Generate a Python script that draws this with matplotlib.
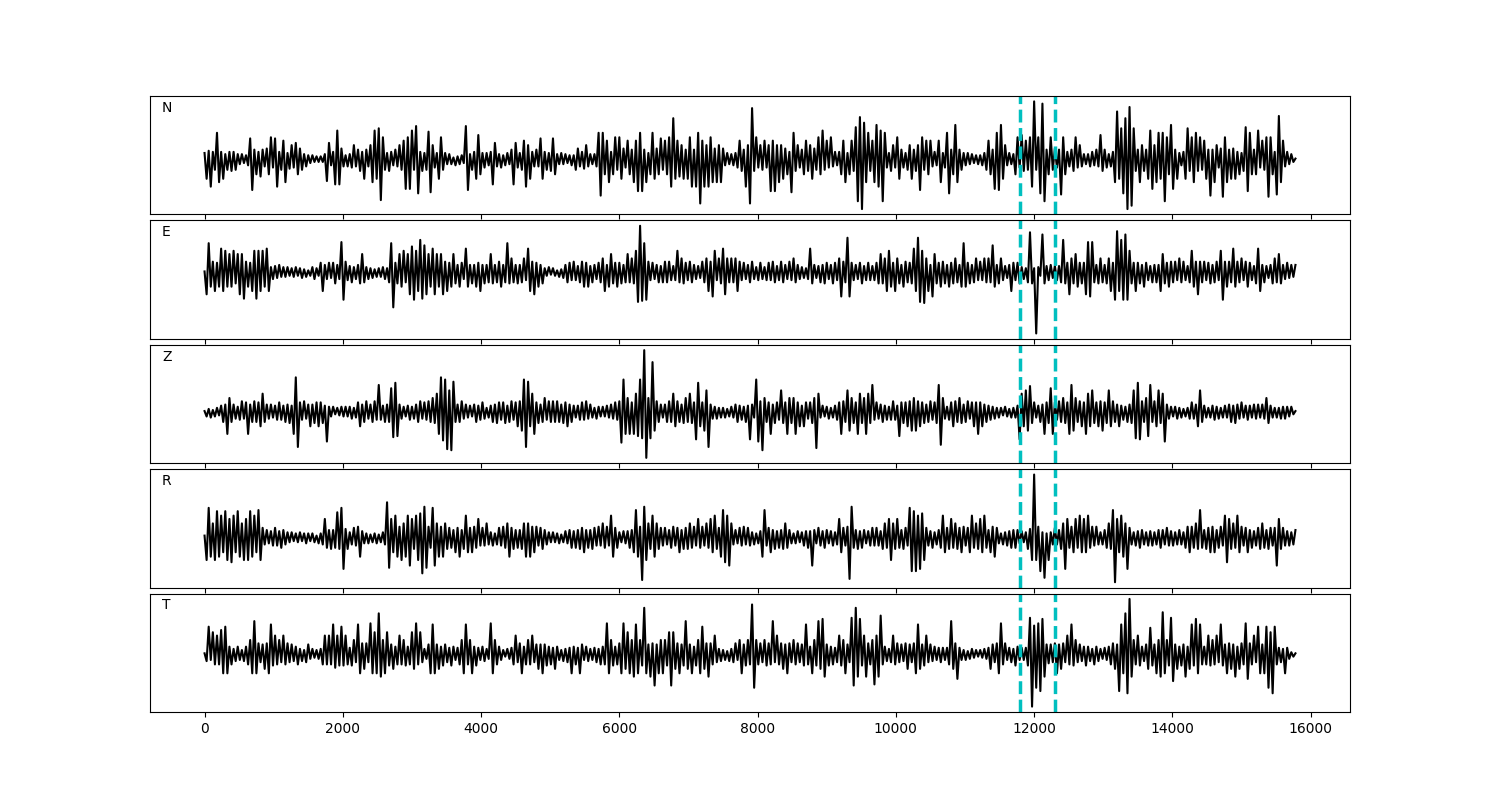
import numpy as np
import matplotlib
matplotlib.use("Agg")
import matplotlib.pyplot as plt

# peak heights, one value every 30 samples;
# successive values alternate up / down
step = 30
picks = [11800, 12300]

N_amp = [
    6, 17, 8, 24, 7, 9, 24, 20, 7, 17, 5, 9, 7, 10, 7, 9, 5,
    4, 5, 3, 4, 5, 19, 27, 9, 13, 7, 15, 9, 6, 10, 13, 20, 7,
    19, 24, 7, 9, 17, 20, 6, 8, 13, 7, 15, 13, 10, 9, 5, 6, 4,
    3, 4, 2, 3, 2, 3, 2, 5, 19, 15, 5, 7, 22, 26, 22, 10, 6,
    4, 6, 5, 7, 13, 6, 9, 10, 7, 17, 9, 6, 13, 20, 26, 17, 28,
    36, 20, 9, 6, 10, 7, 5, 9, 6, 13, 9, 17, 26, 20, 26, 26, 9,
    30, 30, 7, 10, 6, 9, 25, 29, 13, 7, 6, 17, 20, 9, 6, 4, 5,
    4, 2, 5, 3, 4, 4, 3, 30, 27, 5, 9, 7, 17, 22, 13, 6, 7,
    6, 5, 7, 22, 15, 6, 5, 7, 4, 5, 6, 4, 9, 22, 15, 7, 6,
    9, 17, 24, 13, 17, 7, 6, 9, 6, 19, 17, 7, 9, 6, 10, 19, 13,
    5, 4, 6, 4, 5, 3, 4, 5, 4, 9, 10, 6, 7, 8, 13, 6, 5,
    4, 5, 6, 24, 32, 24, 13, 17, 20, 7, 13, 20, 9, 20, 17, 10, 7,
    17, 13, 9, 20, 17, 28, 24, 28, 9, 20, 6, 13, 24, 17, 10, 13, 19,
    9, 17, 13, 20, 24, 37, 17, 17, 15, 13, 17, 9, 17, 20, 24, 9, 24,
    24, 39, 17, 24, 13, 24, 20, 20, 10, 20, 13, 20, 10, 5, 6, 4, 5,
    5, 6, 7, 17, 10, 9, 24, 13, 39, 46, 10, 20, 7, 13, 9, 17, 7,
    13, 28, 17, 28, 13, 20, 13, 17, 10, 13, 7, 29, 24, 10, 13, 7, 9,
    13, 17, 10, 13, 17, 10, 9, 20, 13, 26, 9, 17, 7, 20, 6, 7, 5,
    7, 13, 17, 20, 6, 13, 17, 10, 29, 37, 38, 44, 33, 20, 24, 10, 17,
    20, 31, 24, 26, 37, 24, 7, 6, 10, 13, 7, 20, 17, 9, 7, 6, 9,
    13, 17, 9, 10, 13, 27, 20, 9, 17, 13, 17, 6, 7, 5, 17, 20, 6,
    7, 24, 30, 9, 13, 31, 20, 9, 9, 6, 5, 6, 4, 5, 3, 4, 4,
    4, 5, 6, 9, 17, 13, 9, 26, 24, 27, 31, 17, 13, 5, 6, 4, 5,
    13, 20, 7, 22, 10, 17, 9, 20, 24, 52, 9, 20, 30, 50, 37, 9, 13,
    20, 9, 10, 7, 9, 31, 20, 13, 7, 6, 9, 10, 20, 7, 13, 6, 5,
    4, 5, 6, 7, 5, 9, 6, 22, 10, 9, 7, 5, 6, 7, 20, 43, 17,
    28, 30, 37, 44, 47, 41, 28, 10, 9, 20, 13, 10, 9, 17, 26, 26, 13,
    20, 24, 17, 24, 37, 20, 13, 31, 26, 9, 17, 6, 5, 7, 17, 28, 10,
    20, 20, 24, 10, 20, 9, 17, 17, 9, 32, 9, 20, 13, 7, 10, 33, 20,
    20, 9, 17, 10, 17, 7, 13, 6, 10, 29, 28, 24, 13, 9, 13, 26, 7,
    17, 9, 20, 33, 20, 13, 7, 31, 39, 20, 17, 6, 7, 4, 5, 2, 1,
]

E_amp = [
    1, 20, 27, 13, 10, 17, 9, 13, 22, 17, 20, 13, 17, 13, 20, 10, 17,
    20, 17, 24, 10, 13, 9, 17, 20, 24, 20, 17, 20, 13, 22, 17, 5, 6,
    6, 5, 7, 4, 5, 4, 5, 3, 4, 4, 5, 3, 4, 5, 3, 4, 2,
    3, 5, 6, 4, 3, 9, 17, 7, 6, 9, 5, 9, 10, 7, 6, 28, 25,
    10, 7, 6, 9, 5, 6, 7, 10, 17, 9, 5, 6, 4, 5, 3, 4, 4,
    4, 5, 6, 4, 9, 27, 32, 9, 10, 17, 13, 20, 9, 17, 20, 24, 25,
    20, 17, 30, 24, 25, 20, 17, 13, 22, 20, 17, 13, 17, 20, 10, 17, 9,
    13, 17, 10, 7, 13, 9, 6, 22, 13, 7, 10, 7, 13, 9, 17, 7, 10,
    7, 9, 17, 10, 7, 9, 10, 13, 7, 9, 27, 10, 13, 9, 7, 10, 7,
    9, 13, 7, 22, 17, 10, 20, 9, 13, 7, 10, 4, 3, 5, 2, 4, 3,
    2, 4, 3, 5, 7, 9, 9, 7, 10, 7, 6, 9, 10, 13, 9, 13, 6,
    9, 7, 6, 9, 9, 13, 17, 7, 13, 17, 10, 9, 13, 9, 10, 7, 9,
    17, 9, 13, 10, 20, 27, 43, 26, 27, 25, 10, 7, 9, 6, 7, 9, 6,
    9, 10, 9, 10, 7, 6, 7, 20, 9, 13, 10, 9, 7, 10, 9, 7, 6,
    6, 5, 10, 9, 13, 17, 10, 22, 20, 7, 13, 10, 22, 20, 13, 9, 13,
    9, 13, 17, 10, 7, 9, 6, 7, 9, 10, 6, 5, 7, 9, 6, 5, 7,
    9, 7, 10, 9, 6, 7, 10, 9, 7, 6, 10, 7, 13, 9, 7, 6, 5,
    5, 4, 6, 22, 10, 7, 5, 6, 9, 7, 10, 9, 6, 7, 10, 9, 7,
    13, 22, 10, 9, 32, 22, 9, 7, 7, 6, 9, 10, 6, 7, 9, 7, 6,
    7, 9, 10, 17, 10, 13, 17, 20, 13, 9, 17, 13, 10, 7, 13, 10, 9,
    9, 10, 22, 17, 32, 27, 20, 28, 13, 17, 7, 22, 17, 10, 9, 13, 10,
    10, 7, 13, 9, 10, 13, 9, 7, 13, 27, 13, 9, 10, 7, 9, 13, 7,
    10, 7, 13, 9, 13, 9, 25, 13, 7, 10, 13, 7, 6, 5, 7, 17, 9,
    7, 9, 10, 5, 6, 4, 9, 37, 10, 4, 56, 5, 3, 35, 10, 6, 7,
    7, 5, 6, 7, 6, 9, 30, 10, 9, 20, 13, 10, 17, 13, 9, 10, 9,
    20, 28, 22, 28, 9, 7, 10, 13, 9, 7, 10, 13, 17, 9, 25, 38, 17,
    30, 25, 35, 25, 20, 10, 9, 17, 9, 10, 7, 13, 9, 7, 6, 9, 7,
    9, 7, 17, 17, 10, 9, 13, 10, 9, 10, 7, 13, 9, 10, 7, 6, 9,
    20, 13, 10, 20, 10, 9, 10, 7, 9, 10, 7, 9, 10, 7, 20, 25, 10,
    13, 10, 9, 22, 13, 10, 9, 13, 7, 10, 13, 9, 7, 6, 10, 22, 17,
    7, 9, 6, 5, 7, 10, 13, 9, 17, 10, 7, 6, 9, 5, 7, 4, 7,
]

Z_amp = [
    1, 4, 3, 5, 2, 4, 4, 3, 6, 9, 7, 20, 13, 9, 7, 6, 5,
    7, 10, 6, 9, 20, 7, 9, 10, 9, 9, 13, 17, 9, 7, 6, 7, 5,
    6, 7, 9, 7, 6, 9, 7, 10, 6, 20, 32, 32, 9, 7, 10, 6, 7,
    13, 7, 10, 9, 13, 9, 10, 6, 27, 5, 4, 5, 2, 4, 3, 5, 4,
    5, 4, 5, 6, 4, 5, 9, 13, 7, 9, 10, 6, 7, 9, 10, 7, 25,
    7, 6, 9, 7, 9, 22, 23, 27, 22, 7, 6, 5, 4, 6, 7, 5, 6,
    7, 9, 10, 6, 9, 7, 10, 9, 13, 10, 17, 20, 32, 26, 30, 34, 20,
    35, 28, 9, 7, 9, 10, 6, 7, 5, 6, 4, 7, 9, 6, 7, 9, 6,
    4, 5, 6, 9, 7, 10, 9, 7, 9, 10, 6, 9, 10, 7, 9, 13, 10,
    17, 30, 32, 28, 13, 17, 20, 9, 10, 7, 9, 13, 7, 10, 9, 10, 9,
    10, 9, 7, 10, 9, 13, 7, 9, 6, 5, 6, 7, 9, 7, 10, 6, 7,
    5, 4, 6, 5, 4, 5, 4, 6, 5, 7, 6, 9, 7, 10, 28, 30, 20,
    13, 20, 9, 20, 17, 22, 30, 24, 57, 42, 13, 24, 46, 17, 10, 9, 7,
    5, 7, 9, 10, 9, 17, 13, 10, 9, 7, 10, 13, 9, 17, 10, 9, 25,
    27, 13, 9, 17, 20, 32, 7, 6, 5, 6, 4, 5, 4, 5, 3, 4, 5,
    5, 7, 9, 6, 7, 5, 9, 6, 25, 7, 5, 30, 27, 10, 35, 13, 9,
    9, 20, 7, 10, 9, 7, 20, 10, 9, 20, 13, 10, 13, 20, 9, 13, 6,
    13, 9, 6, 9, 10, 13, 33, 17, 5, 6, 4, 5, 6, 4, 5, 6, 7,
    9, 20, 10, 9, 20, 17, 13, 10, 9, 20, 17, 10, 13, 20, 17, 10, 25,
    7, 9, 6, 7, 9, 6, 7, 5, 7, 10, 7, 6, 22, 9, 10, 9, 13,
    10, 17, 13, 17, 10, 13, 9, 10, 7, 9, 10, 7, 9, 10, 25, 30, 13,
    6, 5, 7, 9, 13, 10, 9, 13, 10, 7, 9, 10, 6, 9, 13, 9, 20,
    9, 13, 7, 9, 6, 7, 5, 6, 4, 5, 4, 3, 5, 4, 3, 5, 4,
    5, 6, 25, 17, 13, 20, 17, 24, 10, 9, 5, 6, 9, 7, 20, 9, 10,
    22, 20, 9, 7, 10, 9, 13, 10, 9, 20, 25, 17, 13, 9, 10, 13, 9,
    20, 17, 13, 20, 10, 9, 13, 10, 17, 9, 10, 20, 13, 10, 9, 7, 13,
    6, 7, 5, 9, 7, 10, 20, 24, 27, 25, 10, 9, 13, 22, 25, 9, 10,
    13, 20, 10, 17, 27, 7, 6, 5, 4, 5, 6, 4, 5, 3, 4, 4, 6,
    9, 6, 7, 13, 20, 9, 6, 5, 4, 5, 6, 7, 5, 6, 4, 5, 6,
    5, 7, 9, 6, 10, 7, 6, 9, 5, 6, 7, 6, 5, 7, 6, 7, 5,
    7, 6, 13, 10, 6, 5, 4, 5, 4, 6, 5, 6, 5, 4, 5, 2, 1,
]

R_amp = [
    2, 20, 27, 17, 13, 20, 24, 17, 20, 13, 24, 20, 17, 22, 20, 13, 24,
    17, 13, 20, 17, 20, 24, 17, 20, 13, 25, 20, 9, 6, 7, 5, 6, 7,
    9, 7, 6, 9, 7, 6, 5, 4, 5, 3, 4, 4, 5, 3, 4, 5, 4,
    3, 4, 4, 2, 5, 4, 6, 17, 9, 7, 10, 7, 9, 23, 10, 27, 28,
    8, 10, 5, 6, 9, 7, 10, 17, 6, 5, 4, 5, 3, 4, 4, 5, 3,
    4, 5, 6, 32, 27, 17, 13, 20, 17, 10, 20, 13, 17, 20, 25, 17, 10,
    20, 20, 22, 32, 28, 27, 10, 9, 27, 25, 13, 17, 10, 17, 13, 10, 9,
    9, 7, 13, 9, 17, 7, 10, 20, 13, 9, 13, 10, 9, 17, 7, 9, 7,
    13, 6, 5, 7, 4, 6, 9, 7, 10, 9, 13, 17, 9, 10, 7, 9, 7,
    10, 13, 17, 13, 17, 10, 13, 10, 7, 9, 10, 7, 6, 5, 4, 5, 4,
    4, 5, 3, 4, 6, 5, 7, 9, 6, 9, 7, 10, 9, 13, 7, 9, 7,
    10, 9, 7, 10, 7, 13, 9, 10, 7, 20, 17, 9, 9, 5, 4, 6, 5,
    6, 9, 7, 13, 25, 17, 10, 38, 28, 20, 13, 10, 20, 17, 13, 10, 9,
    7, 9, 6, 7, 9, 10, 7, 9, 13, 7, 10, 9, 10, 13, 9, 10, 7,
    17, 9, 10, 7, 13, 9, 17, 13, 20, 10, 9, 17, 25, 22, 20, 25, 13,
    6, 7, 5, 9, 7, 10, 6, 9, 7, 5, 6, 4, 5, 6, 17, 25, 7,
    9, 13, 7, 10, 6, 9, 7, 10, 13, 9, 7, 5, 4, 5, 6, 4, 5,
    7, 6, 9, 6, 25, 7, 5, 9, 7, 6, 9, 7, 5, 6, 7, 5, 6,
    17, 13, 9, 7, 10, 37, 28, 9, 7, 10, 6, 9, 7, 5, 6, 7, 9,
    7, 9, 7, 6, 10, 13, 9, 17, 20, 13, 10, 17, 9, 7, 10, 9, 7,
    27, 30, 24, 30, 20, 28, 22, 20, 9, 7, 6, 9, 5, 6, 7, 9, 20,
    13, 9, 10, 17, 9, 13, 10, 9, 13, 10, 7, 9, 13, 20, 9, 13, 10,
    17, 13, 20, 9, 7, 13, 10, 17, 9, 5, 4, 6, 5, 7, 6, 9, 7,
    9, 7, 5, 6, 4, 5, 10, 8, 20, 57, 20, 10, 30, 5, 36, 4, 20,
    5, 6, 9, 6, 7, 10, 13, 28, 17, 9, 10, 13, 17, 9, 20, 13, 17,
    13, 20, 9, 10, 7, 10, 6, 5, 6, 7, 9, 13, 10, 25, 40, 17, 13,
    20, 17, 13, 28, 9, 6, 5, 7, 6, 9, 7, 6, 5, 7, 6, 7, 5,
    6, 7, 9, 7, 6, 9, 7, 6, 7, 5, 6, 7, 6, 5, 9, 10, 13,
    10, 9, 13, 10, 25, 9, 7, 10, 9, 13, 10, 13, 7, 9, 10, 7, 20,
    22, 17, 10, 13, 9, 20, 13, 10, 7, 9, 13, 7, 9, 6, 7, 9, 10,
    13, 9, 7, 10, 9, 7, 9, 25, 17, 10, 9, 7, 6, 7, 5, 6, 7,
]

T_amp = [
    1, 6, 25, 5, 20, 9, 17, 9, 22, 17, 25, 17, 7, 9, 5, 6, 7,
    5, 4, 6, 7, 9, 13, 17, 30, 17, 10, 7, 9, 13, 10, 17, 27, 10,
    17, 9, 13, 7, 17, 9, 10, 7, 9, 6, 7, 9, 5, 6, 4, 7, 9,
    4, 5, 3, 4, 4, 5, 9, 17, 9, 17, 9, 27, 12, 17, 10, 25, 10,
    17, 9, 6, 10, 13, 7, 27, 17, 10, 13, 10, 7, 28, 17, 20, 17, 37,
    20, 13, 17, 20, 10, 9, 13, 7, 9, 17, 9, 13, 10, 7, 9, 20, 13,
    28, 9, 20, 7, 5, 4, 9, 17, 27, 17, 9, 13, 7, 10, 9, 7, 6,
    10, 7, 5, 6, 9, 13, 17, 27, 9, 13, 17, 7, 10, 6, 5, 7, 6,
    5, 4, 28, 17, 13, 9, 7, 5, 4, 2, 5, 4, 6, 9, 17, 7, 10,
    17, 7, 9, 13, 9, 17, 7, 9, 13, 9, 17, 9, 10, 7, 9, 6, 13,
    7, 5, 4, 6, 5, 7, 6, 17, 7, 9, 6, 17, 9, 5, 7, 6, 5,
    5, 6, 7, 5, 9, 7, 9, 28, 17, 13, 10, 7, 9, 10, 17, 28, 13,
    20, 17, 13, 20, 27, 17, 13, 10, 42, 17, 9, 20, 10, 28, 9, 17, 13,
    17, 13, 10, 20, 28, 20, 13, 10, 17, 9, 10, 30, 13, 9, 17, 7, 10,
    13, 17, 25, 13, 10, 20, 10, 9, 17, 7, 5, 6, 4, 5, 3, 6, 5,
    7, 10, 5, 13, 17, 9, 10, 13, 9, 45, 30, 13, 9, 10, 7, 13, 10,
    10, 9, 30, 7, 17, 9, 10, 13, 9, 17, 10, 7, 13, 9, 10, 7, 9,
    10, 27, 9, 7, 17, 13, 10, 30, 13, 32, 20, 9, 10, 7, 9, 6, 7,
    17, 10, 13, 17, 9, 7, 33, 28, 42, 20, 32, 10, 17, 20, 10, 9, 13,
    27, 17, 20, 35, 9, 7, 6, 5, 7, 17, 9, 10, 7, 9, 6, 10, 13,
    9, 7, 10, 17, 27, 13, 9, 10, 17, 7, 9, 6, 7, 5, 6, 7, 6,
    5, 6, 9, 30, 13, 10, 22, 6, 5, 4, 5, 3, 4, 5, 3, 4, 2,
    4, 3, 5, 4, 6, 13, 9, 7, 10, 17, 28, 9, 10, 5, 6, 7, 5,
    10, 7, 5, 6, 5, 6, 10, 33, 47, 26, 30, 28, 33, 32, 20, 9, 8,
    9, 7, 10, 17, 9, 13, 10, 7, 17, 9, 27, 10, 13, 7, 9, 6, 7,
    10, 7, 6, 5, 9, 7, 6, 5, 4, 6, 5, 7, 9, 10, 13, 9, 33,
    27, 17, 37, 35, 50, 20, 13, 9, 17, 10, 7, 6, 9, 13, 24, 10, 9,
    17, 13, 20, 38, 17, 13, 10, 33, 24, 9, 13, 7, 10, 9, 20, 7, 13,
    27, 10, 32, 17, 27, 9, 7, 9, 17, 10, 13, 9, 17, 7, 27, 10, 9,
    17, 10, 13, 9, 20, 7, 13, 10, 9, 28, 22, 10, 9, 17, 7, 25, 17,
    9, 17, 25, 30, 20, 35, 25, 9, 6, 7, 5, 17, 6, 4, 2, 2, 1,
]

channels = ['N', 'E', 'Z', 'R', 'T']
amps = [N_amp, E_amp, Z_amp, R_amp, T_amp]

fig, axes = plt.subplots(5, 1, figsize=(15, 8), dpi=100, sharex=True)
fig.subplots_adjust(left=0.1, right=0.9, top=0.88, bottom=0.11, hspace=0.05)

for ax, name, amp in zip(axes, channels, amps):
    amp = np.asarray(amp, dtype=float)
    sign = np.resize([1.0, -1.0], len(amp))
    t = np.arange(len(amp)) * step
    ax.plot(t, amp * sign, color='k', lw=1.5)
    for p in picks:
        ax.axvline(p, color='c', ls='--', lw=2.5)
    ax.set_yticks([])
    ax.text(0.01, 0.9, name, transform=ax.transAxes, va='center', ha='left', fontsize=10)

fig.savefig('out.png', dpi=100)
